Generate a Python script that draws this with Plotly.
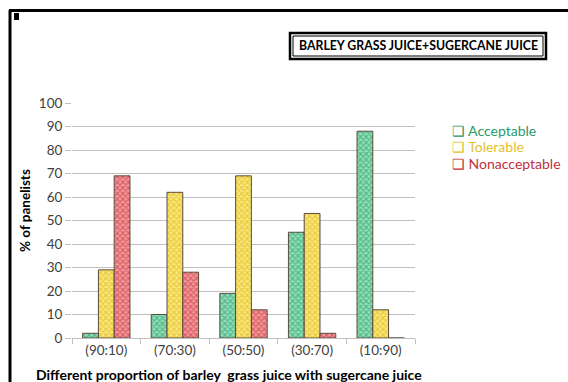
import plotly.graph_objects as go

# Sensory panel results for barley grass juice blended with sugarcane juice
proportions = ["(90:10)", "(70:30)", "(50:50)", "(30:70)", "(10:90)"]
acceptable = [2, 10, 19, 45, 88]
tolerable = [29, 62, 69, 53, 12]
nonacceptable = [69, 28, 12, 2, 0]

series_names = ["Acceptable", "Tolerable", "Nonacceptable"]
series_fg = ["#238a5a", "#d4aa10", "#c4202c"]
series_bg = ["#8ee0b8", "#fbe878", "#f29a9c"]
legend_colors = ["#2a9a6a", "#e3c02e", "#c0303c"]

W, H = 568, 382
L, R, T, B = 72, 153, 103, 44
PW, PH = W - L - R, H - T - B


def px(x):
    return (x - L) / PW


def py(y):
    return (H - B - y) / PH


fig = go.Figure()
for name, vals, fg, bg in zip(series_names, [acceptable, tolerable, nonacceptable], series_fg, series_bg):
    fig.add_trace(go.Bar(
        name=name, x=proportions, y=vals,
        marker=dict(color=bg, line=dict(color="#5a4a3a", width=1),
                    pattern=dict(shape="x", fgcolor=fg, bgcolor=bg, size=4, solidity=0.5)),
        showlegend=False,
    ))

shapes = [
    # outer frame (left and top edges)
    dict(type="line", xref="paper", yref="paper", x0=px(10), x1=px(10), y0=py(10), y1=py(384),
         line=dict(color="black", width=3)),
    dict(type="line", xref="paper", yref="paper", x0=px(9), x1=px(570), y0=py(10.5), y1=py(10.5),
         line=dict(color="black", width=3)),
    # small marker in the corner
    dict(type="rect", xref="paper", yref="paper", x0=px(14), x1=px(19), y0=py(13), y1=py(20),
         fillcolor="black", line=dict(width=0)),
    # title box
    dict(type="rect", xref="paper", yref="paper", x0=px(290), x1=px(546), y0=py(33), y1=py(59),
         fillcolor="white", line=dict(color="black", width=2.5), layer="below"),
    dict(type="rect", xref="paper", yref="paper", x0=px(293), x1=px(543), y0=py(36), y1=py(56),
         line=dict(color="black", width=1)),
]

annotations = [
    dict(text="Observations", xref="paper", yref="paper", x=px(48), y=py(7.5), xanchor="left",
         yanchor="bottom", showarrow=False, font=dict(family="Lato", size=22, color="#a0a0a0")),
    dict(text="<b>BARLEY GRASS JUICE+SUGERCANE JUICE</b>", xref="paper", yref="paper",
         x=px(418), y=py(46), xanchor="center", yanchor="middle", showarrow=False,
         font=dict(family="Lato", size=12.3, color="black")),
    dict(text="<b>% of panelists</b>", xref="paper", yref="paper", x=px(25), y=py(211),
         xanchor="center", yanchor="middle", textangle=-90, showarrow=False,
         font=dict(family="Lato", size=13.5, color="black")),
    dict(text="<b>Different proportion of barley  grass juice with sugercane juice</b>",
         xref="paper", yref="paper", x=px(229), y=py(374), xanchor="center", yanchor="middle",
         showarrow=False, font=dict(family="Lato", size=14, color="black")),
]

for i, (name, col) in enumerate(zip(series_names, legend_colors)):
    annotations.append(dict(
        text="❑ " + name, xref="paper", yref="paper", x=px(450), y=py(130 + i * 16.5),
        xanchor="left", yanchor="middle", showarrow=False,
        font=dict(family="Lato", size=14, color=col)))

fig.update_layout(
    width=W, height=H, margin=dict(l=L, r=R, t=T, b=B),
    paper_bgcolor="white", plot_bgcolor="white",
    barmode="group", bargap=0.31, bargroupgap=0,
    shapes=shapes, annotations=annotations,
    font=dict(family="Lato", color="#404040"),
)
fig.update_xaxes(
    type="category", showgrid=False, showline=True, linecolor="#c0c0c0", linewidth=1,
    ticks="outside", tickson="boundaries", ticklen=5, tickcolor="#c0c0c0",
    tickfont=dict(size=13.5, color="#404040"),
)
fig.update_yaxes(
    range=[0, 100], tickvals=list(range(0, 101, 10)), showgrid=True, gridcolor="#c0c0c0",
    gridwidth=1, zeroline=False, showline=False, ticks="outside", ticklen=6,
    tickcolor="#c0c0c0", tickfont=dict(size=13.5, color="#404040"),
)

fig.write_html("out.html")
